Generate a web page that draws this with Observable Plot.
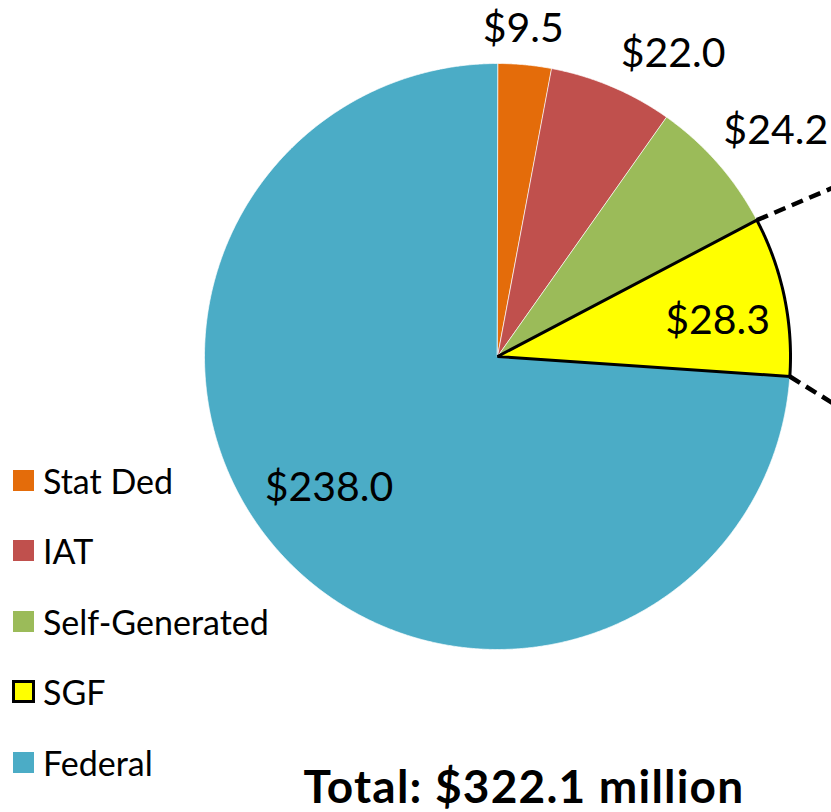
<!DOCTYPE html>
<html><head><meta charset="utf-8">
<script src="https://cdn.jsdelivr.net/npm/d3@7"></script>
<script src="https://cdn.jsdelivr.net/npm/@observablehq/plot@0.6"></script>
<style>
body{margin:0;background:#fff;}
#wrap{position:relative;width:831px;height:812px;overflow:hidden;font-family:Lato, "Open Sans", sans-serif;color:#000;}
#wrap svg{position:absolute;left:0;top:0;}
.lg{position:absolute;left:13px;height:30px;display:flex;align-items:center;font-size:34px;white-space:nowrap;}
.sw{width:21px;height:21px;margin-right:9px;box-sizing:border-box;flex:none;}
#title{position:absolute;left:0;width:1048px;text-align:center;top:763px;height:46px;font-weight:bold;font-size:46px;line-height:46px;letter-spacing:1.2px;white-space:nowrap;}
</style></head><body><div id="wrap"></div>
<script>
const categories = ["Stat Ded", "IAT", "Self-Generated", "SGF", "Federal"];
const values = [9.5, 22.0, 24.2, 28.3, 238.0];
const valueLabels = ["$9.5", "$22.0", "$24.2", "$28.3", "$238.0"];
const colors = ["#E46C0A", "#C0504D", "#9BBB59", "#FFFF00", "#4BACC6"];
const highlighted = "SGF";
const totalLabel = "Total: $322.1 million";

// layout (pixels / polar placement)
const W = 831, H = 760, R = 293, CX = 497, CY = 356;
const labelPlacement = [[4.5, 1.123], [30.1, 1.195], [51, 1.222], [80.7, 0.761], [232, 0.73]]; // [deg, radius factor]
const leaderSlopes = [0.427, -0.62]; // dashed connector slopes (data units) from SGF corners
const leaderEndX = 1.35;

const data = categories.map((c, i) => ({name: c, value: values[i], label: valueLabels[i], color: colors[i]}));
const arcs = d3.pie().sort(null).value(d => d.value)(data);

function slicePoints(a) {
  const pts = [{x: 0, y: 0}];
  const n = Math.max(2, Math.ceil((a.endAngle - a.startAngle) / (Math.PI / 720)));
  for (let k = 0; k <= n; k++) {
    const t = a.startAngle + (a.endAngle - a.startAngle) * k / n;
    pts.push({x: Math.sin(t), y: Math.cos(t)});
  }
  return pts;
}

const sliceMarks = arcs.map(a => Plot.line(slicePoints(a), {
  x: "x", y: "y", curve: "linear-closed",
  fill: a.data.color, stroke: "#ffffff", strokeWidth: 1, strokeOpacity: 0.7
}));

const hi = arcs.find(a => a.data.name === highlighted);
const hiOutline = Plot.line(slicePoints(hi), {
  x: "x", y: "y", curve: "linear-closed", fill: "none", stroke: "#000", strokeWidth: 3, strokeLinejoin: "miter"
});

const corners = [hi.startAngle, hi.endAngle].map((t, i) => {
  const x1 = Math.sin(t), y1 = Math.cos(t);
  return {x1, y1, x2: leaderEndX, y2: y1 + (leaderEndX - x1) * leaderSlopes[i]};
});
const leaders = Plot.link(corners, {
  x1: "x1", y1: "y1", x2: "x2", y2: "y2", stroke: "#000", strokeWidth: 4.5, strokeDasharray: "12,7"
});

const labelData = arcs.map((a, i) => {
  const t = labelPlacement[i][0] * Math.PI / 180, r = labelPlacement[i][1];
  return {x: r * Math.sin(t), y: r * Math.cos(t), text: a.data.label};
});
const labelMark = Plot.text(labelData, {
  x: "x", y: "y", text: "text", fontSize: 41, fill: "#000",
  fontFamily: "Lato, 'Open Sans', sans-serif", textAnchor: "middle", lineAnchor: "middle"
});

const chart = Plot.plot({
  width: W, height: H, margin: 0,
  x: {domain: [-CX / R, (W - CX) / R], axis: null},
  y: {domain: [(CY - H) / R, CY / R], axis: null},
  style: {background: "transparent"},
  marks: [...sliceMarks, hiOutline, leaders, labelMark]
});

const wrap = document.getElementById("wrap");
wrap.appendChild(chart);

categories.forEach((c, i) => {
  const d = document.createElement("div");
  d.className = "lg";
  d.style.top = (480 + i * 70.5 - 15) + "px";
  const sw = document.createElement("div");
  sw.className = "sw";
  sw.style.background = colors[i];
  if (c === highlighted) { sw.style.border = "3px solid #000"; sw.style.width = "23px"; sw.style.height = "23px"; sw.style.marginLeft = "-1px"; sw.style.marginRight = "8px"; }
  d.appendChild(sw);
  const tx = document.createElement("span");
  tx.textContent = c;
  d.appendChild(tx);
  wrap.appendChild(d);
});

const title = document.createElement("div");
title.id = "title";
title.textContent = totalLabel;
wrap.appendChild(title);
</script>
</body></html>
